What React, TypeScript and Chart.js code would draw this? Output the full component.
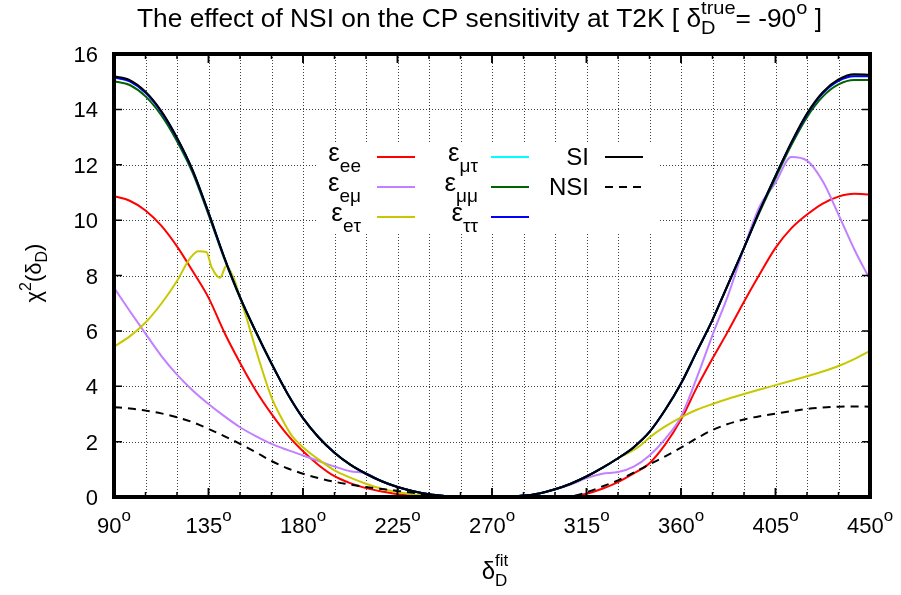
import React, { useEffect, useRef } from 'react';
import { Chart, registerables } from 'chart.js';

Chart.register(...registerables);

// ---------- data ----------
const deltaFit = [
  90, 97.5, 105, 112.5, 120, 127.5, 135, 142.5, 150, 157.5, 165, 172.5, 180, 187.5, 195, 202.5,
  210, 217.5, 225, 232.5, 240, 247.5, 255, 262.5, 270, 277.5, 285, 292.5, 300, 307.5, 315, 322.5,
  330, 337.5, 345, 352.5, 360, 367.5, 375, 382.5, 390, 397.5, 405, 412.5, 420, 427.5, 435, 442.5, 450,
];

const chiSI = [
  15.2, 15.06, 14.64, 13.94, 12.98, 11.8, 10.28, 8.66, 7.22, 5.98, 4.82, 3.75, 2.85, 2.15, 1.6, 1.17,
  0.84, 0.57, 0.36, 0.21, 0.1, 0.04, 0.01, 0, 0, 0.01, 0.05, 0.13, 0.28, 0.48, 0.74, 1.05,
  1.4, 1.8, 2.35, 3.15, 4.1, 5.25, 6.4, 7.7, 9.0, 10.35, 11.6, 12.8, 13.85, 14.62, 15.08, 15.27, 15.25,
];

const chiEpsTauTau = [
  15.15, 15.01, 14.6, 13.91, 12.96, 11.78, 10.26, 8.65, 7.22, 5.98, 4.82, 3.75, 2.85, 2.15, 1.6, 1.17,
  0.84, 0.57, 0.36, 0.21, 0.1, 0.04, 0.01, 0, 0, 0.01, 0.05, 0.13, 0.28, 0.48, 0.74, 1.05,
  1.4, 1.8, 2.35, 3.15, 4.1, 5.25, 6.4, 7.7, 9.0, 10.35, 11.6, 12.78, 13.82, 14.58, 15.03, 15.2, 15.2,
];

const chiEpsMuTau = [
  15.17, 15.03, 14.62, 13.92, 12.97, 11.79, 10.27, 8.66, 7.22, 5.98, 4.82, 3.75, 2.85, 2.15, 1.6, 1.17,
  0.84, 0.57, 0.36, 0.21, 0.1, 0.04, 0.01, 0, 0, 0.01, 0.05, 0.13, 0.28, 0.48, 0.74, 1.05,
  1.4, 1.8, 2.35, 3.15, 4.1, 5.25, 6.4, 7.7, 9.0, 10.35, 11.6, 12.79, 13.83, 14.6, 15.05, 15.22, 15.22,
];

const chiEpsMuMu = [
  15.02, 14.88, 14.47, 13.79, 12.85, 11.7, 10.2, 8.61, 7.19, 5.96, 4.82, 3.75, 2.85, 2.15, 1.6, 1.17,
  0.84, 0.57, 0.36, 0.21, 0.1, 0.04, 0.01, 0, 0, 0.01, 0.05, 0.13, 0.28, 0.48, 0.74, 1.05,
  1.4, 1.8, 2.35, 3.15, 4.1, 5.25, 6.4, 7.7, 9.0, 10.3, 11.52, 12.7, 13.72, 14.46, 14.9, 15.06, 15.06,
];

const chiEpsEE = [
  10.86, 10.7, 10.35, 9.8, 9.05, 8.15, 7.2, 5.95, 4.85, 3.85, 3.0, 2.25, 1.65, 1.15, 0.75, 0.5,
  0.32, 0.2, 0.1, 0.05, 0.02, 0.01, 0, 0, 0, 0, 0, 0, 0, 0.02, 0.12, 0.3,
  0.54, 0.85, 1.22, 1.9, 2.8, 3.95, 5.0, 6.0, 7.05, 8.05, 9.0, 9.7, 10.2, 10.6, 10.85, 10.95, 10.92,
];

const chiEpsEMu = [
  7.56, 6.72, 5.9, 5.1, 4.42, 3.85, 3.36, 2.92, 2.52, 2.2, 1.92, 1.7, 1.5, 1.3, 1.1, 0.93,
  0.85, 0.57, 0.36, 0.21, 0.1, 0.04, 0.01, 0, 0, 0.01, 0.05, 0.13, 0.27, 0.45, 0.68, 0.84,
  0.9, 1.1, 1.5, 2.1, 2.9, 4.3, 5.85, 7.3, 9.0, 10.5, 11.35, 12.28, 12.15, 11.4, 10.2, 8.95, 7.85,
];

const deltaFitETau = [
  90, 97.5, 105, 112.5, 120, 126, 130, 134, 136.5, 140.5, 143.5, 147, 150, 153, 155.5, 160, 165,
  170, 175, 180, 187.5, 195, 202.5, 210, 217.5, 225, 232.5, 240, 247.5, 255, 262.5, 270, 277.5,
  285, 292.5, 300, 307.5, 315, 322.5, 330, 337.5, 341, 345, 352.5, 360, 367.5, 375, 382.5, 390,
  397.5, 405, 412.5, 420, 427.5, 435, 442.5, 450,
];

const chiEpsETau = [
  5.43, 5.8, 6.3, 6.98, 7.8, 8.6, 8.88, 8.85, 8.3, 7.92, 8.34, 7.9, 7.22, 6.5, 5.85, 4.72, 3.6,
  2.82, 2.18, 1.8, 1.35, 0.96, 0.7, 0.48, 0.3, 0.18, 0.1, 0.05, 0.02, 0.01, 0, 0, 0.01,
  0.05, 0.13, 0.28, 0.48, 0.74, 1.05, 1.4, 1.7, 1.88, 2.15, 2.55, 2.88, 3.15, 3.36, 3.55, 3.72,
  3.88, 4.04, 4.2, 4.36, 4.53, 4.73, 4.98, 5.28,
];

const chiNSI = [
  3.24, 3.2, 3.12, 3.02, 2.88, 2.7, 2.46, 2.2, 1.92, 1.62, 1.3, 1.04, 0.84, 0.68, 0.55, 0.45,
  0.36, 0.29, 0.22, 0.15, 0.07, 0.02, 0, 0, 0, 0, 0, 0, 0, 0.02, 0.17, 0.38,
  0.6, 0.88, 1.18, 1.47, 1.78, 2.12, 2.42, 2.64, 2.8, 2.92, 3.01, 3.1, 3.18, 3.23, 3.26, 3.27, 3.26,
];

const xTickLabels = ['90', '135', '180', '225', '270', '315', '360', '405', '450'];
const xMajorTicks = [90, 135, 180, 225, 270, 315, 360, 405, 450];
const xGridValues = [105, 120, 135, 150, 165, 180, 195, 210, 225, 240, 255, 270, 285, 300, 315, 330, 345, 360, 375, 390, 405, 420, 435];
const yTicks = [0, 2, 4, 6, 8, 10, 12, 14, 16];

const COLORS = {
  ee: '#ff0000',
  emu: '#c080ff',
  etau: '#c8c800',
  mutau: '#00ffff',
  mumu: '#006400',
  tautau: '#0000ff',
  si: '#000000',
};

const FONT = '"Liberation Sans", Arial, Helvetica, sans-serif';

type Part = { t?: string; size: number; dy?: number; stack?: { t: string; dy: number }[] };

function partWidth(ctx: CanvasRenderingContext2D, p: Part) {
  ctx.font = `${p.size}px ${FONT}`;
  if (p.stack) return Math.max(...p.stack.map((s) => ctx.measureText(s.t).width));
  return ctx.measureText(p.t || '').width;
}

function richWidth(ctx: CanvasRenderingContext2D, parts: Part[]) {
  return parts.map((p) => partWidth(ctx, p)).reduce((a, b) => a + b, 0);
}

function drawRich(ctx: CanvasRenderingContext2D, parts: Part[], x: number, y: number, align: 'left' | 'center' | 'right') {
  const widths = parts.map((p) => partWidth(ctx, p));
  const total = widths.reduce((a, b) => a + b, 0);
  let cx = align === 'left' ? x : align === 'center' ? x - total / 2 : x - total;
  ctx.textAlign = 'left';
  ctx.textBaseline = 'alphabetic';
  parts.forEach((p, i) => {
    ctx.font = `${p.size}px ${FONT}`;
    if (p.stack) {
      p.stack.forEach((s) => ctx.fillText(s.t, cx, y + s.dy));
    } else {
      ctx.fillText(p.t || '', cx, y + (p.dy || 0));
    }
    cx += widths[i];
  });
}

const legendEntries = [
  { sub: 'ee', color: COLORS.ee, col: 0, row: 0 },
  { sub: 'eμ', color: COLORS.emu, col: 0, row: 1 },
  { sub: 'eτ', color: COLORS.etau, col: 0, row: 2 },
  { sub: 'μτ', color: COLORS.mutau, col: 1, row: 0 },
  { sub: 'μμ', color: COLORS.mumu, col: 1, row: 1 },
  { sub: 'ττ', color: COLORS.tautau, col: 1, row: 2 },
];

const titleParts: Part[] = [
  { t: 'The effect of NSI on the CP sensitivity at T2K [ δ', size: 25 },
  { size: 19, stack: [{ t: 'D', dy: 7 }, { t: 'true', dy: -13 }] },
  { t: '= -90', size: 25 },
  { t: 'o', size: 19, dy: -13 },
  { t: ' ]', size: 25 },
];

const decorPlugin = {
  id: 'decor',
  beforeDatasetsDraw(chart: any) {
    const { ctx, chartArea: a, scales } = chart;
    const xs = scales.x;
    const ys = scales.y;
    ctx.save();
    ctx.strokeStyle = 'rgba(0,0,0,0.75)';
    ctx.lineWidth = 1;
    ctx.setLineDash([1, 2]);
    xGridValues.forEach((v) => {
      const px = Math.round(xs.getPixelForValue(v)) + 0.5;
      ctx.beginPath();
      ctx.moveTo(px, a.top);
      ctx.lineTo(px, a.bottom);
      ctx.stroke();
    });
    yTicks.slice(1, -1).forEach((v) => {
      const py = Math.round(ys.getPixelForValue(v)) + 0.5;
      ctx.beginPath();
      ctx.moveTo(a.left, py);
      ctx.lineTo(a.right, py);
      ctx.stroke();
    });
    ctx.setLineDash([]);
    // legend box (white) hides grid
    ctx.fillStyle = '#ffffff';
    ctx.fillRect(317, 142, 341, 91);
    ctx.restore();
  },
  afterDatasetsDraw(chart: any) {
    const { ctx, chartArea: a, scales } = chart;
    const xs = scales.x;
    const ys = scales.y;
    ctx.save();
    ctx.strokeStyle = '#000';
    // ticks
    ctx.lineWidth = 1.5;
    xGridValues.concat(xMajorTicks).forEach((v) => {
      const major = xMajorTicks.includes(v);
      const len = major ? 9 : 5;
      const px = xs.getPixelForValue(v);
      ctx.beginPath();
      ctx.moveTo(px, a.bottom);
      ctx.lineTo(px, a.bottom - len);
      ctx.moveTo(px, a.top);
      ctx.lineTo(px, a.top + len);
      ctx.stroke();
    });
    yTicks.forEach((v) => {
      const py = ys.getPixelForValue(v);
      ctx.beginPath();
      ctx.moveTo(a.left, py);
      ctx.lineTo(a.left + 8, py);
      ctx.moveTo(a.right, py);
      ctx.lineTo(a.right - 8, py);
      ctx.stroke();
    });
    // border
    ctx.lineWidth = 4;
    ctx.strokeRect(a.left, a.top, a.right - a.left, a.bottom - a.top);

    ctx.fillStyle = '#000';
    // y tick labels
    yTicks.forEach((v) => {
      const py = ys.getPixelForValue(v);
      drawRich(ctx, [{ t: String(v), size: 22 }], 98, py + 8, 'right');
    });
    // x tick labels
    xMajorTicks.forEach((v, i) => {
      const px = xs.getPixelForValue(v);
      drawRich(ctx, [{ t: xTickLabels[i], size: 22 }, { t: 'o', size: 17, dy: -12 }], px, 533, 'center');
    });
    // title (fit to reference span)
    const tw = richWidth(ctx, titleParts);
    const targetW = 685;
    ctx.save();
    ctx.translate(137, 0);
    ctx.scale(targetW / tw, 1);
    drawRich(ctx, titleParts, 0, 27, 'left');
    ctx.restore();
    // x axis title
    drawRich(
      ctx,
      [
        { t: 'δ', size: 24 },
        { size: 17, stack: [{ t: 'D', dy: 7 }, { t: 'fit', dy: -13 }] },
      ],
      495,
      579,
      'center'
    );
    // y axis title
    ctx.save();
    ctx.translate(33, 273);
    ctx.rotate(-Math.PI / 2);
    drawRich(
      ctx,
      [
        { t: 'χ', size: 22 },
        { t: '2', size: 16, dy: -10 },
        { t: '(δ', size: 22 },
        { t: 'D', size: 16, dy: 6 },
        { t: ')', size: 22 },
      ],
      0,
      8,
      'center'
    );
    ctx.restore();

    // legend
    const rowY = [157, 187, 217];
    const colTextRight = [361, 478];
    const colLine = [
      [377, 415],
      [491, 529],
    ];
    ctx.lineWidth = 2;
    legendEntries.forEach((e) => {
      const y = rowY[e.row];
      drawRich(ctx, [{ t: 'ε', size: 26 }, { t: e.sub, size: 19, dy: 11 }], colTextRight[e.col], y + 4, 'right');
      ctx.strokeStyle = e.color;
      ctx.beginPath();
      ctx.moveTo(colLine[e.col][0], y);
      ctx.lineTo(colLine[e.col][1], y);
      ctx.stroke();
    });
    ctx.strokeStyle = '#000';
    drawRich(ctx, [{ t: 'SI', size: 24 }], 589, rowY[0] + 8, 'right');
    ctx.beginPath();
    ctx.moveTo(605, rowY[0]);
    ctx.lineTo(643, rowY[0]);
    ctx.stroke();
    drawRich(ctx, [{ t: 'NSI', size: 24 }], 589, rowY[1] + 8, 'right');
    ctx.setLineDash([8, 6]);
    ctx.beginPath();
    ctx.moveTo(605, rowY[1]);
    ctx.lineTo(643, rowY[1]);
    ctx.stroke();
    ctx.setLineDash([]);
    ctx.restore();
  },
};

function pts(xs: number[], ys: number[]) {
  return xs.map((x, i) => ({ x, y: ys[i] }));
}

export default function App() {
  const ref = useRef<HTMLCanvasElement | null>(null);
  useEffect(() => {
    if (!ref.current) return;
    const mk = (label: string, x: number[], y: number[], color: string, order: number, dash?: number[]) => ({
      label,
      data: pts(x, y),
      borderColor: color,
      backgroundColor: color,
      borderWidth: 2,
      pointRadius: 0,
      fill: false,
      cubicInterpolationMode: 'monotone' as const,
      borderDash: dash || [],
      order,
    });
    const chart = new Chart(ref.current, {
      type: 'line',
      data: {
        datasets: [
          mk('ε_ee', deltaFit, chiEpsEE, COLORS.ee, 8),
          mk('ε_eμ', deltaFit, chiEpsEMu, COLORS.emu, 7),
          mk('ε_eτ', deltaFitETau, chiEpsETau, COLORS.etau, 6),
          mk('ε_μτ', deltaFit, chiEpsMuTau, COLORS.mutau, 5),
          mk('ε_μμ', deltaFit, chiEpsMuMu, COLORS.mumu, 4),
          mk('ε_ττ', deltaFit, chiEpsTauTau, COLORS.tautau, 3),
          mk('SI', deltaFit, chiSI, COLORS.si, 2),
          mk('NSI', deltaFit, chiNSI, COLORS.si, 1, [8, 6]),
        ],
      },
      options: {
        responsive: false,
        animation: false,
        events: [],
        layout: { padding: { left: 114, top: 54, right: 31, bottom: 98 } },
        scales: {
          x: { type: 'linear', min: 90, max: 450, display: false },
          y: { type: 'linear', min: 0, max: 16, display: false },
        },
        plugins: {
          legend: { display: false },
          tooltip: { enabled: false },
          title: { display: false },
        },
      },
      plugins: [decorPlugin],
    });
    return () => chart.destroy();
  }, []);
  return (
    <div style={{ position: 'absolute', left: 0, top: 0, width: 901, height: 595, background: '#fff' }}>
      <canvas ref={ref} width={901} height={595} style={{ display: 'block' }} />
    </div>
  );
}
